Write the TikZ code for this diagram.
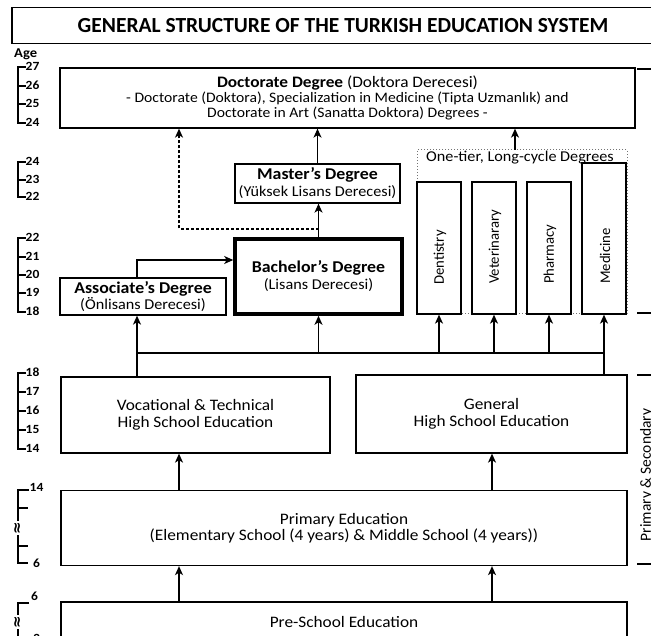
\documentclass[tikz,border=0pt]{standalone}
\usepackage{fontspec}
\setmainfont{Carlito}[FakeStretch=1.08]
\newfontfamily\plainfnt{Carlito}
\newfontfamily\symfnt{DejaVu Sans}
\usetikzlibrary{arrows.meta}
\begin{document}
\begin{tikzpicture}[x=1pt,y=-1pt,
  box/.style={draw, line width=1.3pt, inner sep=0pt, align=center},
  conn/.style={line width=1.3pt},
  arr/.style={conn, -{Stealth[length=9pt,width=8pt,inset=2.5pt]}},
  agelab/.style={font=\bfseries\fontsize{12.5}{13}\selectfont, anchor=south west, inner sep=0pt},
  body/.style={font=\fontsize{16}{16.5}\selectfont},
  vtxt/.style={font=\plainfnt\fontsize{14.7}{15}\selectfont, rotate=90, anchor=west, inner sep=0pt},
  approx/.style={fill=white, inner sep=0.3pt, rotate=90, font=\symfnt\bfseries\fontsize{15}{15}\selectfont},
]
\useasboundingbox (0,0) rectangle (651,636);

% title
\node[box, minimum width=662pt, minimum height=36pt, font=\plainfnt\fontsize{21.5}{22}\selectfont\bfseries] (title) at (343,25.5) {GENERAL STRUCTURE OF THE TURKISH EDUCATION SYSTEM};
\node[font=\fontsize{13.5}{14}\selectfont\bfseries, anchor=west, inner sep=0pt] (age) at (14,54) {Age};

% higher education
\node[box, minimum width=575pt, minimum height=60pt, font=\fontsize{14.5}{14.7}\selectfont] (doc) at (347.5,98)
  {{\fontsize{16}{16}\selectfont\textbf{Doctorate Degree} (Doktora Derecesi)}\\- Doctorate (Doktora), Specialization in Medicine (Tipta Uzmanlık) and\\Doctorate in Art (Sanatta Doktora) Degrees -};
\node[box, minimum width=165pt, minimum height=39pt, font=\fontsize{15}{17}\selectfont] (master) at (317.5,183.5)
  {{\fontsize{16.5}{17}\selectfont\bfseries Master's Degree}\\(Yüksek Lisans Derecesi)};
\node[box, line width=3.6pt, minimum width=167pt, minimum height=75pt, font=\fontsize{15}{17}\selectfont] (bachelor) at (318.5,276.5)
  {{\fontsize{16.5}{17}\selectfont\bfseries Bachelor's Degree}\\(Lisans Derecesi)};
\node[box, minimum width=166pt, minimum height=37pt, font=\fontsize{15}{15.5}\selectfont] (assoc) at (143,296.5)
  {{\fontsize{16.5}{17}\selectfont\bfseries Associate's Degree}\\(Önlisans Derecesi)};

\node[draw=black!55, dotted, line width=1pt, minimum width=210pt, minimum height=164pt, inner sep=0pt] (onetier) at (522,232) {};
\node[font=\fontsize{15}{16}\selectfont, inner sep=0pt] (otlabel) at (520,158) {One-tier, Long-cycle Degrees};

\node[box, minimum width=44pt, minimum height=132pt] (dent) at (439,248) {};
\node[box, minimum width=44pt, minimum height=132pt] (vet) at (494,248) {};
\node[box, minimum width=44pt, minimum height=132pt] (pharm) at (549,248) {};
\node[box, minimum width=44pt, minimum height=151pt] (med) at (604,238.5) {};
\node[vtxt] (dentt) at (440,285) {Dentistry};
\node[vtxt] (vett) at (495,284) {Veterinarary};
\node[vtxt] (pharmt) at (550,284) {Pharmacy};
\node[vtxt] (medt) at (605,284) {Medicine};

% secondary
\node[box, body, minimum width=269pt, minimum height=76pt] (voc) at (195.5,415) {Vocational \& Technical\\High School Education};
\node[box, body, minimum width=271pt, minimum height=78pt] (gen) at (491.5,414) {General\\High School Education};
\node[box, body, minimum width=566pt, minimum height=75pt] (primary) at (344,528) {Primary Education\\(Elementary School (4 years) \& Middle School (4 years))};
\node[box, minimum width=566pt, minimum height=58pt] (pre) at (344,631) {};
\node[body, inner sep=0pt] (pret) at (344,622) {Pre-School Education};

% connectors
\coordinate (dj) at (318.5,229);
\coordinate (dcol) at (179,229);
\coordinate (otc) at (515,150);
\coordinate (aturn) at (137,260);
\coordinate (busL) at (137,353);
\coordinate (busR) at (604,353);
\coordinate (colA) at (179,0);
\coordinate (colB) at (492,0);

\draw[arr] (bachelor.north) -- (bachelor.north |- master.south);
\draw[arr] (master.north) -- (master.north |- doc.south);
\draw[arr, dashed, dash pattern=on 3pt off 2pt] (dj) -- (dcol) -- (dcol |- doc.south);
\draw[arr] (otc) -- (otc |- doc.south);
\draw[arr] (aturn |- assoc.north) -- (aturn) -- (aturn -| bachelor.west);

\draw[conn] (busL) -- (busR);
\draw[arr] (busL) -- (busL |- assoc.south);
\draw[arr] (bachelor.south |- busL) -- (bachelor.south);
\draw[arr] (dent.south |- busL) -- (dent.south);
\draw[arr] (vet.south |- busL) -- (vet.south);
\draw[arr] (pharm.south |- busL) -- (pharm.south);
\draw[arr] (busR) -- (med.south);
\draw[conn] (busL) -- (busL |- voc.north);
\draw[conn] (busR) -- (busR |- gen.north);

\draw[arr] (primary.north -| colA) -- (voc.south -| colA);
\draw[arr] (primary.north -| colB) -- (gen.south -| colB);
\draw[arr] (pre.north -| colA) -- (primary.south -| colA);
\draw[arr] (pre.north -| colB) -- (primary.south -| colB);

% age scales
\begin{scope}[conn, line width=1.3pt]
\draw (26,67) -- (18,67) -- (18,123) -- (26,123);
\foreach \yy in {86,104} \draw (18,\yy) -- (26,\yy);
\draw (26,162) -- (18,162) -- (18,197) -- (26,197);
\draw (18,180) -- (26,180);
\draw (26,238) -- (18,238) -- (18,312) -- (26,312);
\foreach \yy in {257,275,293} \draw (18,\yy) -- (26,\yy);
\draw (26,373) -- (18,373) -- (18,449) -- (26,449);
\foreach \yy in {392,411,430} \draw (18,\yy) -- (26,\yy);
\draw (29,490) -- (18,490) -- (18,563) -- (28,563);
\foreach \yy in {508,546} \draw (18,\yy) -- (28,\yy);
\draw (29,603) -- (18,603) -- (18,640);
\end{scope}
\node[agelab] (a27) at (25.5,71) {27};
\node[agelab] (a26) at (25.5,90) {26};
\node[agelab] (a25) at (25.5,108) {25};
\node[agelab] (a24) at (25.5,127) {24};
\node[agelab] (b24) at (25.5,166) {24};
\node[agelab] (b23) at (25.5,184) {23};
\node[agelab] (b22) at (25.5,201) {22};
\node[agelab] (c22) at (25.5,242) {22};
\node[agelab] (c21) at (25.5,261) {21};
\node[agelab] (c20) at (25.5,279) {20};
\node[agelab] (c19) at (25.5,297) {19};
\node[agelab] (c18) at (25.5,316) {18};
\node[agelab] (d18) at (25.5,377) {18};
\node[agelab] (d17) at (25.5,396) {17};
\node[agelab] (d16) at (25.5,415) {16};
\node[agelab] (d15) at (25.5,434) {15};
\node[agelab] (d14) at (25.5,453) {14};
\node[agelab] (e14) at (29.5,492) {14};
\node[agelab, anchor=west] (e6) at (33,563) {6};
\node[agelab] (f6) at (31,601) {6};
\node[agelab, anchor=west] (f3) at (33,638) {3};
\node[approx] (e1) at (18,528) {≈};
\node[approx] (f1) at (18,622) {≈};

% right side brackets
\draw[conn] (637,69) -- (655,69);
\draw[conn] (637,313) -- (655,313);
\draw[conn] (637,375) -- (655,375);
\draw[conn] (637,564) -- (655,564);
\node[font=\plainfnt\fontsize{15.5}{16}\selectfont, rotate=90, anchor=north, inner sep=0pt] (ps) at (640,475) {Primary \& Secondary};
\end{tikzpicture}
\end{document}
